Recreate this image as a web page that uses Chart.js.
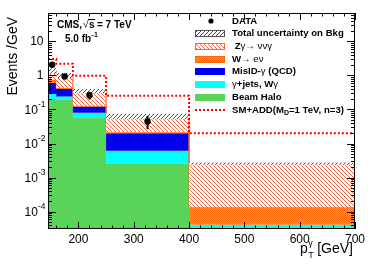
<!DOCTYPE html>
<html><head><meta charset="utf-8">
<script src="https://cdn.jsdelivr.net/npm/chart.js@4/dist/chart.umd.min.js"></script>
<style>html,body{margin:0;padding:0;background:#fff}</style>
</head><body>
<canvas id="c" width="374" height="264" style="display:block;width:374px;height:264px"></canvas>
<script>
// ---- data (Events / GeV) ----
const binEdges   = [145, 160, 190, 250, 400, 700];
const beamHalo   = [0.202, 0.19, 0.059, 0.00265, 0];
const gammaJets  = [0.082, 0.051, 0.021, 0.00345, 0.000041];
const misID      = [0.314, 0.157, 0.0426, 0.0141, 0];
const wEnu       = [0.15, 0.028, 0.006, 0.0014, 0.000094];
const zNuNu      = [0.61, 0.574, 0.2165, 0.0404, 0.00243];
const uncLow     = [1.12, 0.84, 0.30, 0.052, 0.00237];
const uncHigh    = [1.65, 1.18, 0.40, 0.0733, 0.00276];
const addSignal  = [3.04, 2.21, 0.98, 0.253, 0.0202];
const dataX      = [152.5, 175, 220, 325];
const dataY      = [2.07, 0.935, 0.262, 0.0444];
const dataErrLow = [1.72, 0.77, 0.196, 0.0265];
const dataErrHigh= [2.44, 1.11, 0.328, 0.065];
const xTickValues = [200, 300, 400, 500, 600, 700];
const xTickLabels = ['200', '300', '400', '500', '600', '700'];
const yTickValues = [1e-4, 1e-3, 1e-2, 1e-1, 1, 10];
const yTickLabels = [['10','-4'], ['10','-3'], ['10','-2'], ['10','-1'], ['1',''], ['10','']];
const legendLabels = ['DATA', 'Total uncertainty on Bkg', 'Zγ→ ννγ', 'W→ eν', 'MisID-γ (QCD)', 'γ+jets, Wγ', 'Beam Halo', 'SM+ADD(M_D=1 TeV, n=3)'];

const X_MIN = 145, X_MAX = 700, Y_MIN = 3.1e-5, Y_MAX = 68;
const FLOOR = 1e-8; // stand-in for empty bins on the log axis (below the visible range)
const FONT = "'Liberation Sans', Arial, Helvetica, sans-serif";

// ---- helpers ----
function steps(vals) {
  const v2 = vals.map(v => (v > 0 ? v : FLOOR));
  const pts = v2.map((v, i) => ({x: binEdges[i], y: v}));
  pts.push({x: binEdges[binEdges.length - 1], y: v2[v2.length - 1]});
  return pts;
}
const comps = [beamHalo, gammaJets, misID, wEnu, zNuNu];
let run = beamHalo.map(() => 0);
const cums = comps.map(c => { run = run.map((r, i) => r + c[i]); return run.slice(); });

function makePattern(w, h, draw) {
  const c = document.createElement('canvas'); c.width = w; c.height = h;
  const g = c.getContext('2d'); draw(g, w, h);
  return g.createPattern(c, 'repeat');
}
const redHatch = makePattern(4, 4, (g) => {
  g.fillStyle = '#ffffff'; g.fillRect(0, 0, 4, 4);
  g.fillStyle = '#f46a4a';
  for (let i = 0; i < 4; i++) g.fillRect(i, i, 1, 1);
});
const grayHatch = makePattern(4, 4, (g) => {
  g.fillStyle = '#ffffff'; g.fillRect(0, 0, 4, 4);
  g.fillStyle = '#4a4a4a';
  for (let i = 0; i < 4; i++) g.fillRect(i, 3 - i, 1, 1);
});
const orangeCheck = makePattern(2, 2, (g) => {
  g.fillStyle = '#ff6400'; g.fillRect(0, 0, 2, 2);
  g.fillStyle = '#ff9a55'; g.fillRect(1, 0, 1, 1); g.fillRect(0, 1, 1, 1);
});
const GREEN = '#58d558', CYAN = '#00ffff', BLUE = '#0000ee';

const base = {type: 'line', stepped: true, pointRadius: 0, borderWidth: 0, borderColor: 'rgba(0,0,0,0)', tension: 0};

const rootPlugin = {
  id: 'rootStyle',
  afterDatasetsDraw(chart) {
    const {ctx, scales: {x, y}} = chart;
    ctx.save();
    ctx.strokeStyle = '#000'; ctx.lineWidth = 2;
    dataX.forEach((xv, i) => {
      const px = x.getPixelForValue(xv);
      ctx.beginPath();
      ctx.moveTo(px, y.getPixelForValue(dataErrLow[i]));
      ctx.lineTo(px, y.getPixelForValue(dataErrHigh[i]));
      ctx.stroke();
    });
    ctx.restore();
  },
  afterDraw(chart) {
    const {ctx, chartArea: a, scales: {x, y}} = chart;
    ctx.save();
    ctx.strokeStyle = '#000'; ctx.lineWidth = 1;
    ctx.strokeRect(a.left + 0.5, a.top + 0.5, a.right - a.left - 1, a.bottom - a.top - 1);
    // y ticks (log, inward, both sides)
    ctx.beginPath();
    for (let e = -6; e <= 2; e++) {
      for (let m = 1; m <= 9; m++) {
        const v = m * Math.pow(10, e);
        if (v < Y_MIN || v > Y_MAX) continue;
        const py = Math.round(y.getPixelForValue(v)) + 0.5;
        const len = m === 1 ? 8 : 4;
        ctx.moveTo(a.left, py); ctx.lineTo(a.left + len, py);
        ctx.moveTo(a.right, py); ctx.lineTo(a.right - len, py);
      }
    }
    // x ticks (inward, both sides)
    for (let v = 160; v <= X_MAX; v += 20) {
      const px = Math.round(x.getPixelForValue(v)) + 0.5;
      const len = v % 100 === 0 ? 7 : 3.5;
      ctx.moveTo(px, a.bottom); ctx.lineTo(px, a.bottom - len);
      ctx.moveTo(px, a.top); ctx.lineTo(px, a.top + len);
    }
    ctx.stroke();

    ctx.fillStyle = '#000';
    // x labels
    ctx.font = '12px ' + FONT; ctx.textAlign = 'center'; ctx.textBaseline = 'alphabetic';
    xTickValues.forEach((v, i) => ctx.fillText(xTickLabels[i], x.getPixelForValue(v), 242.5));
    // y labels
    yTickValues.forEach((v, i) => {
      const py = y.getPixelForValue(v);
      const [b, s] = yTickLabels[i];
      ctx.textBaseline = 'middle'; ctx.textAlign = 'right';
      if (s) {
        ctx.font = '8.5px ' + FONT;
        const sw = ctx.measureText(s).width;
        ctx.fillText(s, 45.5, py - 5);
        ctx.font = '12px ' + FONT;
        ctx.fillText(b, 45.5 - sw, py + 1);
      } else {
        ctx.font = '12px ' + FONT;
        ctx.fillText(b, 43.5, py + 0.5);
      }
    });
    // y title
    ctx.save();
    ctx.translate(17, 17); ctx.rotate(-Math.PI / 2);
    ctx.font = '14px ' + FONT; ctx.textAlign = 'right'; ctx.textBaseline = 'alphabetic';
    ctx.fillText('Events /GeV', 0, 0);
    ctx.restore();
    // x title: p_T^γ [GeV]
    ctx.textAlign = 'left'; ctx.textBaseline = 'alphabetic';
    ctx.font = '14px ' + FONT;
    const rest = ' [GeV]';
    const restW = ctx.measureText(rest).width;
    const xEnd = 353;
    const pW = ctx.measureText('p').width;
    ctx.font = '9px ' + FONT;
    const subW = Math.max(ctx.measureText('T').width, ctx.measureText('γ').width);
    let xs = xEnd - restW - subW - pW;
    ctx.font = '14px ' + FONT; ctx.fillText('p', xs, 253);
    ctx.font = '9px ' + FONT;
    ctx.fillText('γ', xs + pW + 0.5, 246);
    ctx.fillText('T', xs + pW + 0.5, 258);
    ctx.font = '14px ' + FONT; ctx.fillText(rest, xEnd - restW, 253);

    // CMS label
    ctx.font = 'bold 10px ' + FONT; ctx.textBaseline = 'middle';
    ctx.fillText('CMS,', 57, 25);
    ctx.font = '10px ' + FONT;
    ctx.fillText('√', 83, 25);
    ctx.font = 'bold 10px ' + FONT;
    ctx.fillText('s', 89, 25);
    ctx.beginPath(); ctx.lineWidth = 1; ctx.moveTo(88, 19.5); ctx.lineTo(95, 19.5); ctx.stroke();
    ctx.fillText('= 7 TeV', 97, 25);
    ctx.fillText('5.0 fb', 65, 39.5);
    const fbW = ctx.measureText('5.0 fb').width;
    ctx.font = 'bold 7px ' + FONT;
    ctx.fillText('-1', 65 + fbW + 0.5, 35.5);

    // legend
    const lx0 = 195, lx1 = 225, tx = 232, ly0 = 21, dy = 12.7, sh = 7;
    const ys = legendLabels.map((_, i) => ly0 + i * dy);
    ctx.beginPath(); ctx.arc(211, ys[0], 2.6, 0, Math.PI * 2); ctx.fill();
    const box = (i, fill, stroke) => {
      const t = Math.round(ys[i] - sh / 2);
      ctx.fillStyle = fill; ctx.fillRect(lx0, t, lx1 - lx0, sh);
      if (stroke) { ctx.strokeStyle = stroke; ctx.lineWidth = 1; ctx.strokeRect(lx0 + 0.5, t + 0.5, lx1 - lx0 - 1, sh - 1); }
    };
    box(1, grayHatch, '#555');
    box(2, redHatch, '#ff6040');
    box(3, orangeCheck, '#ff6400');
    box(4, BLUE);
    box(5, CYAN);
    box(6, GREEN);
    ctx.strokeStyle = '#ff0000'; ctx.lineWidth = 2; ctx.setLineDash([2, 2]);
    ctx.beginPath(); ctx.moveTo(lx0, ys[7]); ctx.lineTo(lx1, ys[7]); ctx.stroke();
    ctx.setLineDash([]);
    ctx.fillStyle = '#000'; ctx.textBaseline = 'middle'; ctx.textAlign = 'left';
    const B = 'bold 9.6px ' + FONT, N = '9.6px ' + FONT;
    const segs = (y0, parts) => {
      let cx = tx;
      parts.forEach(([t, f, dyy]) => { ctx.font = f; ctx.fillText(t, cx, y0 + (dyy || 0)); cx += ctx.measureText(t).width; });
    };
    segs(ys[0], [['DATA', B]]);
    segs(ys[1], [['Total uncertainty on Bkg', B]]);
    segs(ys[2], [[' Z', B], ['γ→ ννγ', N]]);
    segs(ys[3], [['W', B], ['→ eν', N]]);
    segs(ys[4], [['MisID-', B], ['γ', N], [' (QCD)', B]]);
    segs(ys[5], [['γ', N], ['+jets, W', B], ['γ', N]]);
    segs(ys[6], [['Beam Halo', B]]);
    segs(ys[7], [['SM+ADD(M', B], ['D', 'bold 7px ' + FONT, 3], ['=1 TeV, n=3)', B]]);
    ctx.restore();
  }
};

new Chart(document.getElementById('c'), {
  type: 'line',
  data: {
    datasets: [
      {...base, label: 'Beam Halo', data: steps(cums[0]), fill: 'start', backgroundColor: GREEN, order: 8},
      {...base, label: 'γ+jets, Wγ', data: steps(cums[1]), fill: '-1', backgroundColor: CYAN, order: 7},
      {...base, label: 'MisID-γ (QCD)', data: steps(cums[2]), fill: '-1', backgroundColor: BLUE, order: 6},
      {...base, label: 'W→eν', data: steps(cums[3]), fill: '-1', backgroundColor: orangeCheck, borderColor: '#ff6400', borderWidth: 1, order: 5},
      {...base, label: 'Zγ→ννγ', data: steps(cums[4]), fill: '-1', backgroundColor: redHatch, borderColor: '#ff5a30', borderWidth: 1, order: 4},
      {...base, label: 'unc low', data: steps(uncLow), fill: false, order: 3},
      {...base, label: 'Total uncertainty on Bkg', data: steps(uncHigh), fill: '-1', backgroundColor: grayHatch, order: 2},
      {...base, label: 'SM+ADD', data: steps(addSignal), fill: false, borderColor: '#ff0000', borderWidth: 2, borderDash: [2, 2], order: 1},
      {type: 'line', label: 'DATA', data: dataX.map((xv, i) => ({x: xv, y: dataY[i]})), showLine: false,
       pointRadius: 3.2, pointBackgroundColor: '#000', pointBorderColor: '#000', pointBorderWidth: 0, order: 0}
    ]
  },
  options: {
    responsive: false, animation: false, devicePixelRatio: 1,
    layout: {padding: {left: 48, right: 19, top: 13, bottom: 35}},
    plugins: {legend: {display: false}, tooltip: {enabled: false}},
    scales: {
      x: {type: 'linear', min: X_MIN, max: X_MAX, display: false, bounds: 'data'},
      y: {type: 'logarithmic', min: Y_MIN, max: Y_MAX, display: false, bounds: 'data'}
    }
  },
  plugins: [rootPlugin]
});
</script>
</body></html>
